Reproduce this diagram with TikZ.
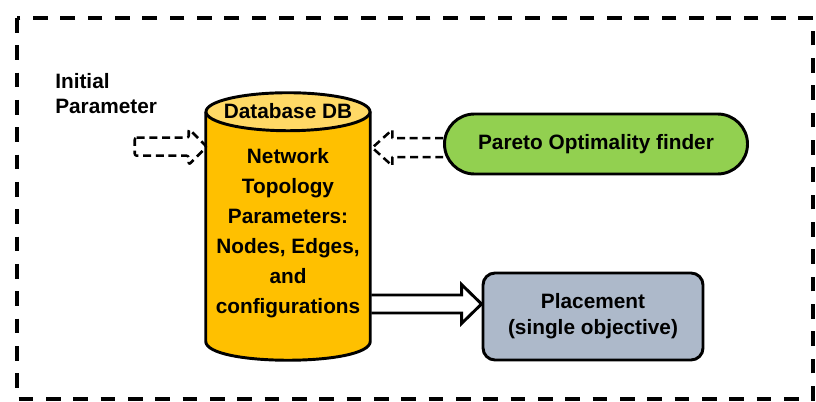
\documentclass[tikz,border=0pt]{standalone}
\usepackage{fontspec}
\setmainfont{Liberation Sans}
\usetikzlibrary{calc,shapes.misc}
\definecolor{dbbody}{HTML}{FFC000}
\definecolor{dbtop}{HTML}{FFD966}
\definecolor{paretogreen}{HTML}{92D050}
\definecolor{placeblue}{HTML}{ADB9CA}
\tikzset{
  lbl/.style={font=\bfseries\fontsize{15.6}{22.5}\selectfont, inner sep=0pt},
  outline/.style={draw=black, line width=2.2pt},
  dasharrow/.style={draw=black, line width=1.9pt, dash pattern=on 6pt off 3.5pt, line join=round},
  solidarrow/.style={draw=black, line width=2.2pt, line join=miter},
  frame/.style={draw=black, line width=3.4pt, dash pattern=on 11pt off 9.5pt}
}
\begin{document}
\begin{tikzpicture}[x=0.75pt, y=-0.75pt]
\useasboundingbox (0,0) rectangle (816,402);

% outer dashed frame
\draw[frame] (17,18) rectangle (813,399);

% database cylinder
\node[minimum width=164*0.75pt, minimum height=229*0.75pt, inner sep=0pt] (db) at (288,226.5) {};
\fill[dbbody] (db.north west) -- (db.south west)
  .. controls ($(db.south west)+(0,25.3)$) and ($(db.south east)+(0,25.3)$) .. (db.south east)
  -- (db.north east) -- cycle;
\draw[outline] (db.north west) -- (db.south west)
  .. controls ($(db.south west)+(0,25.3)$) and ($(db.south east)+(0,25.3)$) .. (db.south east)
  -- (db.north east);
\draw[outline, fill=dbtop] (db.north) ellipse [x radius=82, y radius=19];
\node[lbl] (dbtitle) at ($(db.north)+(0,-1)$) {Database DB};
\node[lbl, align=center, anchor=north] (dbtext) at ($(db.north)+(0,36)$)
  {Network\\Topology\\Parameters:\\Nodes, Edges,\\and\\configurations};

% input label
\node[lbl, font=\bfseries\fontsize{15.6}{18.75}\selectfont, align=left, anchor=north west] (init) at (55,73) {Initial\\Parameter};

% pareto finder
\node[rounded rectangle, outline, fill=paretogreen, minimum width=303*0.75pt,
      minimum height=60*0.75pt, lbl] (pareto) at (596,144) {Pareto Optimality finder};

% placement
\node[rectangle, rounded corners=9pt, outline, fill=placeblue, minimum width=220*0.75pt,
      minimum height=87*0.75pt, lbl, font=\bfseries\fontsize{15.6}{19.5}\selectfont, align=center]
      (place) at (593,316.5) {Placement\\(single objective)};

% dashed arrow: initial parameter into the database
\coordinate (tipL) at ($(db.north west)+(1,35)$);
\draw[dasharrow, rounded corners=1.5pt] ($(tipL)+(-72,-9)$) -- ($(tipL)+(-18,-9)$) -- ($(tipL)+(-18,-18)$)
  -- (tipL) -- ($(tipL)+(-18,18)$) -- ($(tipL)+(-18,9)$) -- ($(tipL)+(-72,9)$) -- cycle;

% dashed arrow: pareto finder back to the database
\coordinate (tipR) at ($(db.north east)+(2,36)$);
\draw[dasharrow] ($(tipR -| pareto.west)+(0,-9.5)$) -- ($(tipR)+(20,-9.5)$) -- ($(tipR)+(20,-18)$)
  -- (tipR) -- ($(tipR)+(20,18)$) -- ($(tipR)+(20,9.5)$) -- ($(tipR -| pareto.west)+(0,9.5)$);

% block arrow: database to placement
\coordinate (tipA) at ($(place.west)+(0,-12.5)$);
\draw[solidarrow] ($(tipA -| db.east)+(1,-9)$) -- ($(tipA)+(-20,-9)$) -- ($(tipA)+(-20,-19.5)$)
  -- (tipA) -- ($(tipA)+(-20,19.5)$) -- ($(tipA)+(-20,9)$) -- ($(tipA -| db.east)+(1,9)$);
\end{tikzpicture}
\end{document}
